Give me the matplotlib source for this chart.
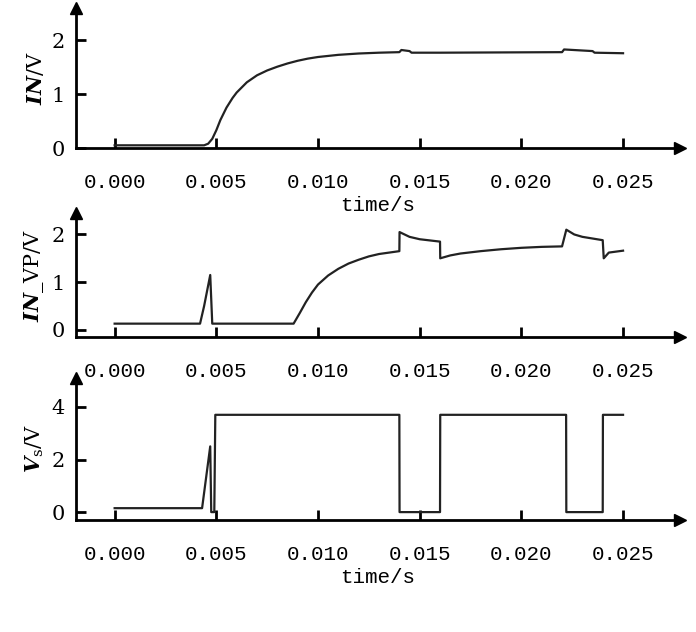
import matplotlib
matplotlib.use("Agg")
import matplotlib.pyplot as plt

t1 = [0.0, 0.0044, 0.0046, 0.0048, 0.005, 0.0052, 0.0055, 0.0058, 0.006, 0.0065, 0.007, 0.0075, 0.008, 0.0085, 0.009, 0.0095, 0.010, 0.011, 0.012, 0.013, 0.014, 0.0141, 0.0145, 0.0146, 0.016, 0.022, 0.0221, 0.0235, 0.0236, 0.025]
v1 = [0.05, 0.05, 0.08, 0.17, 0.33, 0.52, 0.75, 0.93, 1.03, 1.22, 1.35, 1.44, 1.51, 1.57, 1.62, 1.66, 1.69, 1.73, 1.755, 1.77, 1.78, 1.82, 1.8, 1.77, 1.77, 1.78, 1.83, 1.8, 1.77, 1.76]

t2 = [0.0, 0.0042, 0.0044, 0.0047, 0.0048, 0.0088, 0.0091, 0.0094, 0.0097, 0.010, 0.0105, 0.011, 0.0115, 0.012, 0.0125, 0.013, 0.0135, 0.014, 0.01401, 0.0145, 0.015, 0.016, 0.01601, 0.0165, 0.017, 0.018, 0.019, 0.020, 0.021, 0.022, 0.02221, 0.0226, 0.023, 0.024, 0.02405, 0.0243, 0.025]
v2 = [0.13, 0.13, 0.5, 1.15, 0.13, 0.13, 0.35, 0.58, 0.78, 0.95, 1.14, 1.28, 1.39, 1.47, 1.54, 1.59, 1.62, 1.65, 2.05, 1.95, 1.9, 1.85, 1.5, 1.56, 1.6, 1.65, 1.69, 1.72, 1.74, 1.75, 2.1, 2.0, 1.95, 1.88, 1.5, 1.62, 1.66]

t3 = [0.0, 0.0043, 0.0047, 0.00475, 0.0049, 0.00495, 0.014, 0.01401, 0.016, 0.01601, 0.0222, 0.02221, 0.024, 0.02401, 0.025]
v3 = [0.15, 0.15, 2.5, 0.0, 0.0, 3.7, 3.7, 0.0, 0.0, 3.7, 3.7, 0.0, 0.0, 3.7, 3.7]

xticks = [0.0, 0.005, 0.010, 0.015, 0.020, 0.025]
xticklabels = ["0.000", "0.005", "0.010", "0.015", "0.020", "0.025"]

plt.rcParams["mathtext.fontset"] = "dejavuserif"
W, H = 696, 632
fig = plt.figure(figsize=(W/100, H/100), dpi=100)
font = "Liberation Mono"

panels = [
    (t1, v1, (8, 148), (0, 2.6), [0, 1, 2], r"$\mathbfit{IN}$/V"),
    (t2, v2, (213, 337), (-0.15, 2.45), [0, 1, 2], r"$\mathbfit{IN}$_VP/V"),
    (t3, v3, (378, 520), (-0.3, 5.1), [0, 2, 4], r"$\mathbfit{V}_{\rm s}$/V"),
]
for t, v, (top, bot), ylim, yt, ylab in panels:
    ax = fig.add_axes([76/W, 1-bot/H, (680-76)/W, (bot-top)/H])
    ax.plot(t, v, color="#222222", lw=1.6)
    ax.set_xlim(-0.0019, 0.0278)
    ax.set_ylim(*ylim)
    for s in ["top", "right"]:
        ax.spines[s].set_visible(False)
    for s in ["left", "bottom"]:
        ax.spines[s].set_linewidth(2)
    ax.plot(1, 0, ">k", ms=9, transform=ax.transAxes, clip_on=False)
    ax.plot(0, 1, "^k", ms=9, transform=ax.transAxes, clip_on=False)
    ax.set_xticks(xticks)
    ax.set_xticklabels(xticklabels, fontfamily=font, fontsize=15)
    ax.set_yticks(yt)
    ax.set_yticklabels([str(y) for y in yt], fontfamily="DejaVu Serif", fontsize=15)
    ax.tick_params(axis="x", direction="in", length=7, width=2, pad=18)
    ax.tick_params(axis="y", direction="in", length=7, width=2, pad=8)
    ax.set_xlabel("time/s", fontfamily=font, fontsize=15, labelpad=3)
    ax.set_ylabel(ylab, fontfamily="DejaVu Serif", fontsize=15, labelpad=4)

fig.savefig("out.png", dpi=100)
